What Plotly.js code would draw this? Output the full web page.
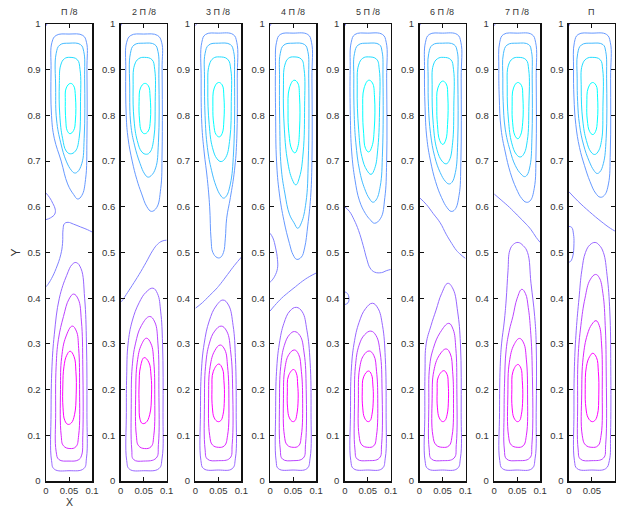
<!DOCTYPE html>
<html><head><meta charset="utf-8">
<script src="https://cdn.plot.ly/plotly-3.0.1.min.js"></script>
<style>html,body{margin:0;padding:0;background:#fff}</style>
</head><body><div id="chart" style="width:618px;height:508px"></div>
<script>
// ---- data ----
const panelTitles = ["Π /8", "2 Π /8", "3 Π /8", "4 Π /8", "5 Π /8", "6 Π /8", "7 Π /8", "Π"];
const xTickVals = [0, 0.05, 0.1];
const yTickVals = [0, 0.1, 0.2, 0.3, 0.4, 0.5, 0.6, 0.7, 0.8, 0.9, 1];
const xTitle = "X", yTitle = "Y";
// contour level index: 0 = innermost upper cell ... 3 = outer upper cell, 4 = middle, 5 = outer lower cell ... 8 = innermost lower cell
// each entry: [level, [x0,y0, x1,y1, ...]]
const panel1 = [
 [3,[0.05,0.978,0.08,0.975,0.088,0.96,0.089,0.9,0.089,0.75,0.086,0.66,0.078,0.625,0.069,0.617,0.06,0.627,0.047,0.65,0.033,0.7,0.018,0.75,0.012,0.8,0.011,0.9,0.013,0.96,0.022,0.975,0.05,0.978]],
 [2,[0.05,0.958,0.075,0.955,0.082,0.94,0.084,0.88,0.083,0.75,0.078,0.695,0.068,0.676,0.062,0.674,0.055,0.68,0.044,0.7,0.032,0.74,0.023,0.79,0.021,0.86,0.022,0.935,0.03,0.954,0.05,0.958]],
 [1,[0.052,0.927,0.068,0.922,0.074,0.9,0.075,0.83,0.072,0.75,0.064,0.722,0.053,0.716,0.044,0.722,0.036,0.75,0.03,0.8,0.029,0.87,0.032,0.91,0.04,0.924,0.052,0.927]],
 [0,[0.053,0.870,0.06,0.865,0.064,0.84,0.064,0.79,0.06,0.767,0.052,0.76,0.046,0.767,0.043,0.79,0.042,0.83,0.044,0.86,0.053,0.870]],
 [4,[0,0.63,0.008,0.62,0.015,0.607,0.02,0.595,0.019,0.584,0.01,0.576,0,0.572]],
 [4,[0.1,0.545,0.09,0.55,0.075,0.556,0.06,0.562,0.048,0.566,0.04,0.563,0.037,0.55,0.036,0.52,0.032,0.495,0.022,0.465,0.012,0.443,0.004,0.43,0,0.425]],
 [4,[0,0.996,0.002,1]],
 [5,[0.0656,0.478,0.076,0.465,0.084,0.4,0.088,0.3,0.089,0.15,0.088,0.05,0.082,0.027,0.05,0.0225,0.018,0.026,0.012,0.045,0.011,0.15,0.013,0.25,0.018,0.32,0.029,0.4,0.045,0.45,0.057,0.474,0.0656,0.478]],
 [6,[0.06,0.409,0.07,0.398,0.077,0.35,0.08,0.25,0.08,0.1,0.077,0.055,0.07,0.046,0.05,0.0436,0.028,0.047,0.022,0.065,0.021,0.15,0.022,0.25,0.027,0.31,0.038,0.36,0.05,0.398,0.06,0.409]],
 [7,[0.057,0.339,0.066,0.328,0.071,0.29,0.073,0.2,0.071,0.1,0.065,0.075,0.052,0.071,0.038,0.077,0.033,0.1,0.0315,0.2,0.034,0.27,0.043,0.315,0.057,0.339]],
 [8,[0.0525,0.284,0.061,0.272,0.065,0.24,0.0656,0.19,0.062,0.145,0.055,0.127,0.0475,0.124,0.041,0.132,0.037,0.16,0.0366,0.21,0.039,0.25,0.045,0.275,0.0525,0.284]]
];
const panel2 = [
 [3,[0.05,0.978,0.08,0.975,0.089,0.96,0.09,0.9,0.09,0.72,0.087,0.64,0.078,0.598,0.0667,0.59,0.057,0.6,0.045,0.63,0.035,0.66,0.025,0.7,0.016,0.75,0.012,0.8,0.011,0.9,0.013,0.96,0.022,0.975,0.05,0.978]],
 [2,[0.05,0.958,0.074,0.955,0.081,0.94,0.083,0.88,0.082,0.74,0.076,0.685,0.066,0.668,0.059,0.665,0.052,0.672,0.042,0.695,0.03,0.735,0.022,0.78,0.0196,0.86,0.021,0.935,0.029,0.954,0.05,0.958]],
 [1,[0.052,0.927,0.068,0.922,0.074,0.9,0.075,0.83,0.072,0.75,0.064,0.72,0.056,0.715,0.046,0.72,0.036,0.745,0.029,0.79,0.027,0.86,0.03,0.91,0.039,0.924,0.052,0.927]],
 [0,[0.052,0.870,0.06,0.865,0.064,0.84,0.0645,0.79,0.06,0.766,0.052,0.76,0.045,0.766,0.041,0.79,0.040,0.83,0.043,0.86,0.052,0.870]],
 [4,[0.1,0.527,0.09,0.525,0.08,0.518,0.07,0.505,0.055,0.478,0.04,0.452,0.025,0.428,0.012,0.408,0.005,0.397,0.002,0.393,0,0.395]],
 [4,[0,0.996,0.002,1]],
 [5,[0.07,0.422,0.08,0.41,0.087,0.37,0.091,0.3,0.092,0.15,0.09,0.05,0.083,0.027,0.05,0.0225,0.019,0.026,0.013,0.045,0.0123,0.15,0.013,0.23,0.016,0.3,0.025,0.35,0.04,0.39,0.055,0.413,0.07,0.422]],
 [6,[0.063,0.36,0.074,0.348,0.081,0.3,0.083,0.2,0.082,0.08,0.077,0.05,0.05,0.0436,0.028,0.047,0.024,0.07,0.023,0.17,0.025,0.25,0.032,0.3,0.045,0.34,0.063,0.36]],
 [7,[0.056,0.3125,0.066,0.3,0.072,0.26,0.074,0.19,0.072,0.1,0.066,0.075,0.052,0.071,0.039,0.077,0.034,0.1,0.0326,0.19,0.036,0.26,0.045,0.298,0.056,0.3125]],
 [8,[0.051,0.27,0.061,0.26,0.066,0.23,0.067,0.19,0.063,0.145,0.055,0.128,0.047,0.126,0.042,0.135,0.04,0.17,0.04,0.21,0.043,0.25,0.051,0.27]]
];
const panel3 = [
 [3,[0.05,0.98,0.082,0.977,0.09,0.96,0.091,0.88,0.09,0.75,0.085,0.68,0.076,0.62,0.068,0.575,0.065,0.53,0.061,0.5,0.054,0.489,0.047,0.489,0.038,0.5,0.034,0.53,0.031,0.6,0.026,0.66,0.019,0.72,0.014,0.78,0.0125,0.88,0.014,0.96,0.022,0.977,0.05,0.98]],
 [2,[0.05,0.958,0.076,0.955,0.083,0.94,0.085,0.88,0.083,0.72,0.076,0.65,0.067,0.623,0.061,0.619,0.054,0.626,0.045,0.645,0.035,0.68,0.026,0.73,0.021,0.8,0.0198,0.88,0.021,0.935,0.029,0.954,0.05,0.958]],
 [1,[0.052,0.928,0.07,0.923,0.077,0.9,0.078,0.83,0.075,0.75,0.066,0.708,0.056,0.699,0.047,0.705,0.037,0.73,0.03,0.78,0.027,0.86,0.03,0.91,0.039,0.925,0.052,0.928]],
 [0,[0.05,0.872,0.058,0.867,0.062,0.84,0.062,0.79,0.058,0.76,0.052,0.753,0.045,0.758,0.04,0.78,0.038,0.82,0.041,0.86,0.05,0.872]],
 [4,[0,0.378,0.015,0.39,0.03,0.405,0.045,0.42,0.055,0.432,0.07,0.452,0.085,0.472,0.1,0.49]],
 [4,[0,0.996,0.002,1]],
 [5,[0.06,0.396,0.072,0.385,0.082,0.34,0.087,0.27,0.0887,0.15,0.087,0.05,0.08,0.027,0.05,0.024,0.018,0.027,0.012,0.045,0.011,0.15,0.013,0.24,0.019,0.3,0.03,0.35,0.045,0.383,0.06,0.396]],
 [6,[0.056,0.339,0.068,0.328,0.077,0.28,0.081,0.2,0.08,0.08,0.075,0.05,0.05,0.0445,0.026,0.048,0.021,0.07,0.0197,0.17,0.022,0.25,0.03,0.3,0.042,0.328,0.056,0.339]],
 [7,[0.054,0.2976,0.064,0.287,0.07,0.25,0.0728,0.18,0.07,0.1,0.063,0.077,0.05,0.0737,0.037,0.079,0.031,0.1,0.0287,0.18,0.032,0.25,0.042,0.285,0.054,0.2976]],
 [8,[0.051,0.256,0.059,0.245,0.062,0.22,0.063,0.18,0.06,0.145,0.055,0.132,0.0487,0.13,0.041,0.138,0.037,0.16,0.036,0.2,0.039,0.24,0.051,0.256]]
];
const panel4 = [
 [3,[0.05,0.98,0.082,0.977,0.09,0.96,0.091,0.88,0.091,0.7,0.088,0.62,0.082,0.56,0.075,0.51,0.068,0.49,0.058,0.485,0.05,0.495,0.042,0.52,0.03,0.57,0.02,0.63,0.014,0.7,0.012,0.8,0.0117,0.9,0.014,0.96,0.022,0.977,0.05,0.98]],
 [2,[0.05,0.958,0.075,0.955,0.082,0.94,0.084,0.88,0.083,0.7,0.078,0.61,0.068,0.565,0.06,0.553,0.052,0.565,0.042,0.584,0.032,0.63,0.024,0.687,0.021,0.78,0.0205,0.88,0.022,0.935,0.03,0.954,0.05,0.958]],
 [1,[0.052,0.928,0.068,0.923,0.074,0.9,0.075,0.82,0.072,0.72,0.064,0.665,0.056,0.648,0.048,0.66,0.038,0.7,0.031,0.77,0.029,0.86,0.032,0.91,0.04,0.925,0.052,0.928]],
 [0,[0.052,0.877,0.06,0.871,0.064,0.84,0.064,0.77,0.06,0.73,0.054,0.718,0.047,0.726,0.041,0.76,0.039,0.81,0.042,0.86,0.052,0.877]],
 [4,[0,0.542,0.006,0.532,0.012,0.51,0.016,0.485,0.016,0.465,0.01,0.448,0.003,0.438,0,0.435]],
 [4,[0,0.372,0.01,0.384,0.025,0.4,0.04,0.413,0.055,0.425,0.07,0.437,0.085,0.447,0.1,0.455]],
 [4,[0,0.996,0.002,1]],
 [5,[0.057,0.38,0.07,0.37,0.08,0.33,0.087,0.26,0.089,0.15,0.087,0.05,0.08,0.027,0.05,0.024,0.018,0.027,0.013,0.045,0.012,0.15,0.014,0.24,0.02,0.3,0.03,0.345,0.043,0.372,0.057,0.38]],
 [6,[0.053,0.327,0.065,0.318,0.074,0.28,0.0785,0.2,0.077,0.08,0.072,0.05,0.05,0.0445,0.027,0.048,0.022,0.07,0.0204,0.17,0.023,0.25,0.031,0.297,0.042,0.32,0.053,0.327]],
 [7,[0.053,0.2867,0.062,0.277,0.068,0.24,0.0707,0.18,0.068,0.1,0.062,0.077,0.05,0.0737,0.037,0.079,0.031,0.1,0.029,0.18,0.032,0.245,0.041,0.277,0.053,0.2867]],
 [8,[0.051,0.244,0.057,0.236,0.06,0.21,0.061,0.18,0.058,0.145,0.054,0.132,0.049,0.13,0.042,0.138,0.038,0.16,0.0375,0.195,0.04,0.23,0.051,0.244]]
];
const panel5 = [
 [3,[0.05,0.98,0.082,0.977,0.09,0.96,0.091,0.88,0.091,0.7,0.087,0.62,0.078,0.575,0.0646,0.564,0.055,0.572,0.045,0.585,0.032,0.613,0.022,0.66,0.015,0.72,0.012,0.8,0.0117,0.9,0.014,0.96,0.022,0.977,0.05,0.98]],
 [2,[0.05,0.958,0.075,0.955,0.081,0.94,0.083,0.88,0.082,0.72,0.077,0.645,0.068,0.615,0.061,0.61,0.054,0.617,0.043,0.64,0.032,0.68,0.024,0.74,0.0205,0.8,0.0196,0.88,0.021,0.935,0.029,0.954,0.05,0.958]],
 [1,[0.052,0.928,0.069,0.923,0.075,0.9,0.0756,0.82,0.072,0.73,0.065,0.684,0.057,0.671,0.048,0.68,0.037,0.71,0.03,0.77,0.027,0.86,0.03,0.91,0.039,0.925,0.052,0.928]],
 [0,[0.052,0.877,0.06,0.871,0.0646,0.84,0.064,0.77,0.059,0.732,0.052,0.72,0.045,0.728,0.041,0.76,0.039,0.81,0.042,0.86,0.052,0.877]],
 [4,[0,0.6,0.01,0.59,0.02,0.572,0.03,0.548,0.04,0.515,0.048,0.485,0.055,0.466,0.065,0.457,0.08,0.456,0.09,0.46,0.1,0.463]],
 [4,[0,0.414,0.006,0.41,0.009,0.4,0.007,0.39,0,0.386]],
 [4,[0,0.996,0.002,1]],
 [5,[0.06,0.389,0.072,0.378,0.082,0.34,0.088,0.27,0.0898,0.15,0.088,0.05,0.081,0.027,0.05,0.024,0.019,0.027,0.013,0.045,0.0124,0.15,0.014,0.24,0.02,0.3,0.031,0.347,0.045,0.377,0.06,0.389]],
 [6,[0.0566,0.328,0.068,0.318,0.077,0.28,0.081,0.2,0.08,0.08,0.075,0.05,0.05,0.0445,0.027,0.048,0.022,0.07,0.0211,0.17,0.023,0.25,0.031,0.297,0.043,0.32,0.0566,0.328]],
 [7,[0.053,0.2845,0.063,0.275,0.069,0.24,0.0716,0.18,0.069,0.1,0.063,0.077,0.05,0.0737,0.037,0.079,0.031,0.1,0.0296,0.18,0.032,0.245,0.041,0.275,0.053,0.2845]],
 [8,[0.0515,0.2407,0.058,0.233,0.061,0.21,0.062,0.18,0.059,0.145,0.055,0.132,0.05,0.13,0.043,0.138,0.039,0.16,0.038,0.195,0.041,0.228,0.0515,0.2407]]
];
const panel6 = [
 [3,[0.05,0.98,0.082,0.977,0.09,0.96,0.0906,0.88,0.09,0.7,0.086,0.625,0.077,0.594,0.0688,0.59,0.06,0.598,0.048,0.62,0.035,0.655,0.024,0.7,0.016,0.75,0.012,0.82,0.0109,0.9,0.013,0.96,0.021,0.977,0.05,0.98]],
 [2,[0.05,0.958,0.075,0.955,0.082,0.94,0.0833,0.88,0.083,0.74,0.078,0.675,0.07,0.653,0.0638,0.65,0.056,0.656,0.045,0.675,0.033,0.71,0.024,0.76,0.0195,0.82,0.0188,0.88,0.02,0.935,0.028,0.954,0.05,0.958]],
 [1,[0.052,0.927,0.068,0.922,0.074,0.9,0.0746,0.82,0.072,0.74,0.065,0.702,0.058,0.694,0.049,0.7,0.038,0.725,0.03,0.78,0.0275,0.86,0.03,0.91,0.039,0.924,0.052,0.927]],
 [0,[0.05,0.875,0.058,0.869,0.0616,0.84,0.061,0.78,0.057,0.746,0.0507,0.7365,0.044,0.745,0.039,0.78,0.0377,0.82,0.04,0.86,0.05,0.875]],
 [4,[0,0.62,0.015,0.605,0.03,0.585,0.045,0.565,0.058,0.54,0.07,0.52,0.08,0.505,0.09,0.495,0.1,0.487]],
 [4,[0,0.996,0.002,1]],
 [5,[0.0616,0.4326,0.073,0.42,0.083,0.37,0.089,0.3,0.0906,0.15,0.089,0.05,0.082,0.027,0.05,0.024,0.018,0.027,0.012,0.045,0.0116,0.15,0.012,0.24,0.0145,0.3,0.025,0.34,0.036,0.374,0.048,0.41,0.0616,0.4326]],
 [6,[0.0637,0.345,0.073,0.332,0.079,0.29,0.0812,0.2,0.08,0.08,0.075,0.05,0.05,0.0445,0.026,0.048,0.021,0.07,0.0203,0.17,0.022,0.25,0.03,0.29,0.045,0.325,0.0637,0.345]],
 [7,[0.058,0.289,0.067,0.278,0.072,0.24,0.0739,0.18,0.071,0.1,0.064,0.077,0.05,0.0737,0.036,0.079,0.029,0.1,0.0275,0.18,0.031,0.24,0.043,0.275,0.058,0.289]],
 [8,[0.0529,0.2414,0.06,0.233,0.0625,0.21,0.063,0.18,0.06,0.145,0.055,0.132,0.05,0.13,0.043,0.138,0.039,0.16,0.0384,0.195,0.041,0.228,0.0529,0.2414]]
];
const panel7 = [
 [3,[0.05,0.98,0.082,0.977,0.09,0.96,0.0913,0.88,0.091,0.72,0.087,0.64,0.078,0.613,0.0696,0.61,0.06,0.618,0.048,0.64,0.035,0.675,0.024,0.72,0.015,0.77,0.011,0.84,0.0101,0.9,0.012,0.96,0.02,0.977,0.05,0.98]],
 [2,[0.05,0.958,0.075,0.955,0.081,0.94,0.0826,0.88,0.082,0.75,0.078,0.69,0.071,0.669,0.066,0.666,0.058,0.672,0.046,0.69,0.034,0.725,0.024,0.77,0.0195,0.83,0.0188,0.88,0.02,0.935,0.028,0.954,0.05,0.958]],
 [1,[0.052,0.927,0.069,0.922,0.075,0.9,0.0754,0.82,0.072,0.745,0.064,0.715,0.0565,0.709,0.048,0.715,0.038,0.74,0.031,0.79,0.0283,0.86,0.031,0.91,0.04,0.924,0.052,0.927]],
 [0,[0.051,0.872,0.059,0.866,0.0623,0.84,0.062,0.785,0.057,0.756,0.0514,0.749,0.045,0.756,0.04,0.785,0.039,0.82,0.042,0.86,0.051,0.872]],
 [4,[0,0.628,0.015,0.615,0.033,0.599,0.05,0.582,0.0696,0.562,0.08,0.55,0.0913,0.533,0.1,0.522]],
 [4,[0,0.996,0.002,1]],
 [5,[0.052,0.522,0.063,0.515,0.0725,0.5,0.08,0.4326,0.088,0.36,0.0913,0.3,0.0913,0.15,0.089,0.05,0.082,0.027,0.05,0.024,0.018,0.027,0.012,0.045,0.0116,0.15,0.013,0.25,0.016,0.3,0.022,0.35,0.026,0.396,0.03,0.46,0.034,0.505,0.042,0.518,0.052,0.522]],
 [6,[0.06,0.4195,0.068,0.41,0.074,0.38,0.079,0.33,0.0826,0.25,0.082,0.08,0.077,0.05,0.05,0.0445,0.027,0.048,0.022,0.07,0.0215,0.15,0.0225,0.214,0.026,0.287,0.033,0.33,0.0405,0.3595,0.05,0.4,0.06,0.4195]],
 [7,[0.055,0.312,0.064,0.302,0.07,0.265,0.0725,0.19,0.07,0.1,0.063,0.077,0.05,0.0737,0.037,0.079,0.031,0.1,0.0297,0.19,0.033,0.26,0.043,0.298,0.055,0.312]],
 [8,[0.0514,0.255,0.058,0.247,0.061,0.22,0.062,0.18,0.059,0.145,0.055,0.132,0.05,0.13,0.043,0.138,0.039,0.16,0.0384,0.2,0.041,0.24,0.0514,0.255]]
];
const panel8 = [
 [3,[0.05,0.98,0.082,0.977,0.09,0.96,0.0906,0.88,0.09,0.72,0.086,0.65,0.077,0.625,0.068,0.621,0.058,0.63,0.046,0.655,0.034,0.69,0.023,0.73,0.015,0.78,0.011,0.84,0.0101,0.9,0.012,0.96,0.02,0.977,0.05,0.98]],
 [2,[0.05,0.958,0.074,0.955,0.08,0.94,0.082,0.88,0.081,0.75,0.075,0.695,0.067,0.676,0.061,0.673,0.054,0.68,0.044,0.7,0.032,0.735,0.023,0.78,0.019,0.83,0.018,0.88,0.019,0.935,0.027,0.954,0.05,0.958]],
 [1,[0.052,0.927,0.068,0.922,0.0735,0.9,0.074,0.82,0.071,0.745,0.063,0.72,0.056,0.7145,0.048,0.72,0.038,0.745,0.03,0.79,0.0268,0.86,0.029,0.91,0.038,0.924,0.052,0.927]],
 [0,[0.051,0.872,0.059,0.866,0.0623,0.84,0.062,0.79,0.058,0.765,0.052,0.758,0.045,0.765,0.04,0.79,0.039,0.825,0.042,0.86,0.051,0.872]],
 [4,[0,0.633,0.02,0.612,0.045,0.589,0.07,0.568,0.09,0.553,0.1,0.547]],
 [4,[0,0.557,0.006,0.555,0.01,0.54,0.011,0.52,0.008,0.49,0.003,0.48,0,0.479]],
 [4,[0,0.996,0.002,1]],
 [5,[0.057,0.522,0.066,0.516,0.075,0.5,0.083,0.45,0.089,0.37,0.091,0.25,0.0905,0.1,0.088,0.045,0.08,0.027,0.05,0.024,0.018,0.027,0.012,0.045,0.011,0.15,0.012,0.25,0.016,0.33,0.022,0.4,0.028,0.46,0.036,0.5,0.046,0.517,0.057,0.522]],
 [6,[0.058,0.452,0.066,0.445,0.074,0.41,0.079,0.34,0.081,0.25,0.08,0.08,0.075,0.05,0.05,0.0445,0.025,0.048,0.02,0.07,0.019,0.17,0.02,0.27,0.026,0.34,0.035,0.4,0.046,0.44,0.058,0.452]],
 [7,[0.059,0.3508,0.066,0.34,0.071,0.3,0.0725,0.2,0.07,0.1,0.063,0.077,0.05,0.0737,0.036,0.079,0.029,0.1,0.0278,0.19,0.031,0.27,0.04,0.32,0.05,0.343,0.059,0.3508]],
 [8,[0.052,0.2795,0.06,0.27,0.064,0.24,0.065,0.19,0.062,0.145,0.056,0.132,0.05,0.13,0.042,0.138,0.037,0.16,0.0355,0.2,0.038,0.25,0.045,0.272,0.052,0.2795]]
];
const panels = [panel1, panel2, panel3, panel4, panel5, panel6, panel7, panel8];

// ---- styling ----
const levelColors = ['#00FFFF','#22DDFF','#44BBFF','#6699FF','#8080FF','#9966FF','#BB44FF','#DD22FF','#FF00FF'];
const W = 618, H = 508;
const mL = 46, mR = 3, mT = 24, mB = 27;
const plotW = W - mL - mR, plotH = H - mT - mB;
const pitch = 74.7, pw = 46;
const FONT = 'Liberation Sans, Arial, sans-serif';

const traces = [];
const layout = {
  width: W, height: H, margin: {l: mL, r: mR, t: mT, b: mB, pad: 0},
  paper_bgcolor: '#fff', plot_bgcolor: '#fff', showlegend: false,
  font: {family: FONT, size: 9, color: '#333'},
  annotations: []
};
panels.forEach((lines, i) => {
  const sx = i === 0 ? '' : String(i + 1);
  lines.forEach(([lvl, flat]) => {
    const xs = [], ys = [];
    for (let k = 0; k < flat.length; k += 2) { xs.push(flat[k]); ys.push(flat[k + 1]); }
    traces.push({type: 'scatter', mode: 'lines', x: xs, y: ys, xaxis: 'x' + sx, yaxis: 'y' + sx,
      line: {color: levelColors[lvl], width: 1, shape: 'spline', smoothing: 1.2}, hoverinfo: 'skip'});
  });
  const d0 = (i * pitch) / plotW, d1 = (i * pitch + pw) / plotW;
  const axCommon = {showgrid: false, zeroline: false, showline: true, linecolor: '#111', linewidth: 1.5,
    mirror: 'ticks', ticks: 'inside', ticklen: 4, tickwidth: 1, tickcolor: '#111',
    tickfont: {family: FONT, size: 9.5, color: '#333'}, fixedrange: true};
  layout['xaxis' + sx] = Object.assign({}, axCommon, {domain: [d0, Math.min(d1, 1)], range: [0, 0.1],
    tickvals: xTickVals, ticktext: xTickVals.map(String), anchor: 'y' + sx, ticklabelstandoff: 0});
  layout['yaxis' + sx] = Object.assign({}, axCommon, {domain: [0, 1], range: [0, 1],
    tickvals: yTickVals, ticktext: yTickVals.map(String), anchor: 'x' + sx, ticklabelstandoff: 2});
  layout.annotations.push({text: panelTitles[i], xref: 'paper', yref: 'paper',
    x: (d0 + d1) / 2, y: 1, xanchor: 'center', yanchor: 'bottom', yshift: 5, showarrow: false,
    font: {family: FONT, size: 9, color: '#333'}});
});
// axis titles placed as annotations
layout.annotations.push({text: xTitle, xref: 'paper', yref: 'paper', x: (pw / 2) / plotW, y: 0,
  xanchor: 'center', yanchor: 'middle', yshift: -21, borderpad: 0, showarrow: false, font: {family: FONT, size: 10.5, color: '#333'}});
layout.annotations.push({text: yTitle, xref: 'paper', yref: 'paper', x: 0, y: 0.5, textangle: -90,
  xanchor: 'center', yanchor: 'middle', xshift: -31, showarrow: false, font: {family: FONT, size: 12, color: '#333'}});
Plotly.newPlot('chart', traces, layout, {staticPlot: true, displayModeBar: false});
</script></body></html>
